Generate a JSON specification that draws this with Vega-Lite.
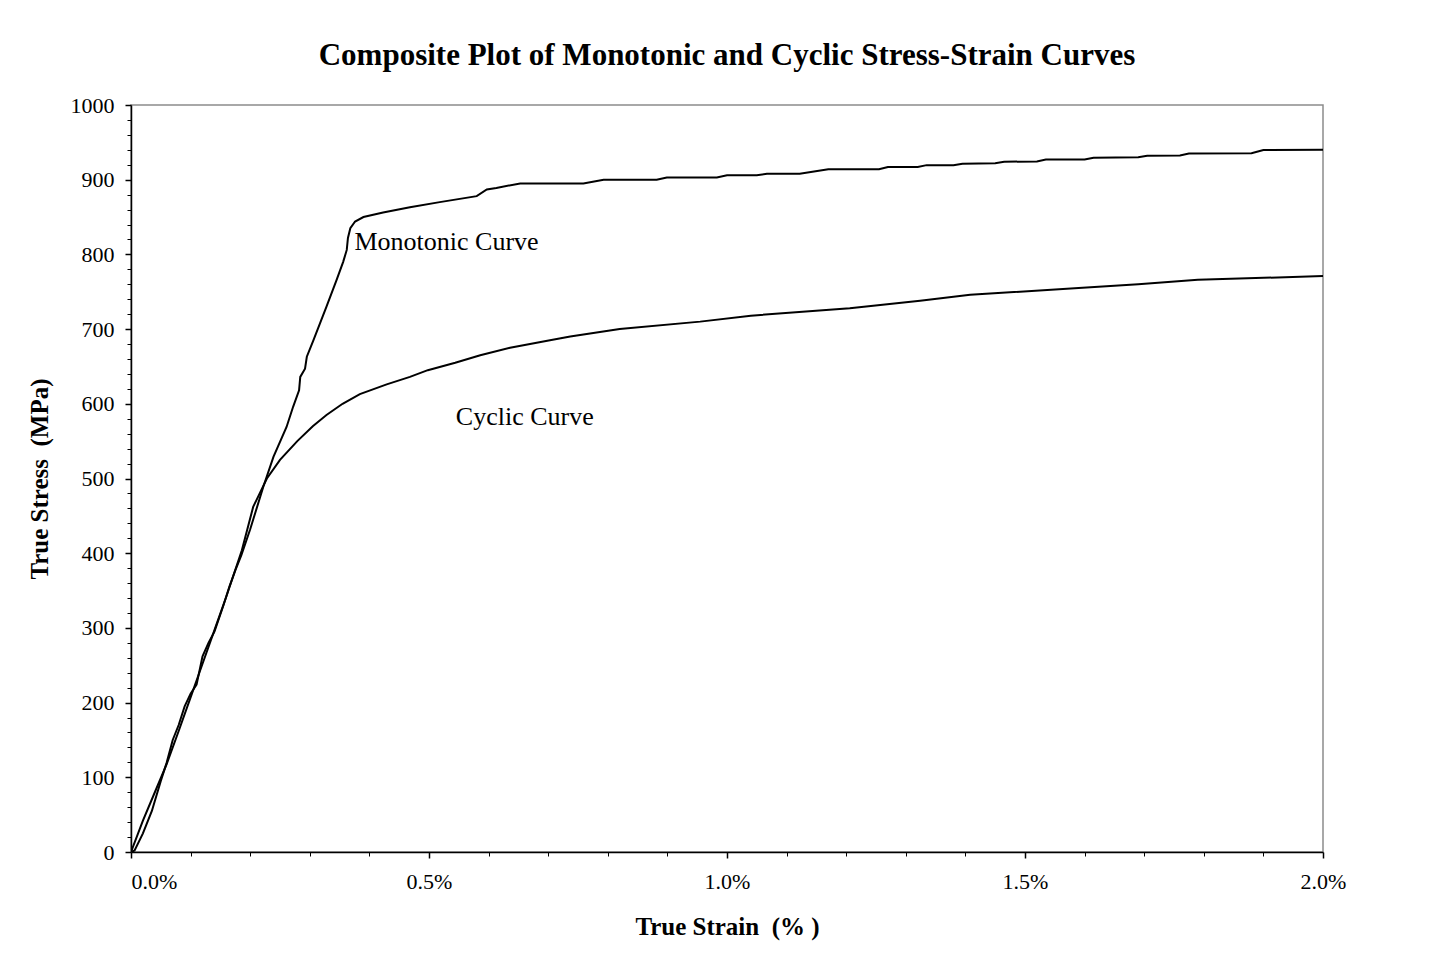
{
  "$schema": "https://vega.github.io/schema/vega-lite/v6.json",
  "autosize": "none",
  "width": 1192,
  "height": 747,
  "padding": {"left": 131, "top": 105, "right": 125, "bottom": 109},
  "background": "white",
  "config": {
    "font": "Liberation Serif",
    "view": {"stroke": "#8c8c8c", "strokeWidth": 1.5},
    "axis": {"labelFont": "Liberation Serif", "titleFont": "Liberation Serif", "labelColor": "black", "titleColor": "black"}
  },
  "title": {
    "text": "Composite Plot of Monotonic and Cyclic Stress-Strain Curves",
    "font": "Liberation Serif",
    "fontSize": 31,
    "fontWeight": "bold",
    "color": "black",
    "anchor": "middle",
    "offset": 22
  },
  "datasets": {
    "curves": [
      {"series": "Monotonic", "strain": 0, "stress": 0},
      {"series": "Monotonic", "strain": 0.006, "stress": 2},
      {"series": "Monotonic", "strain": 0.02, "stress": 25},
      {"series": "Monotonic", "strain": 0.035, "stress": 55},
      {"series": "Monotonic", "strain": 0.05, "stress": 95},
      {"series": "Monotonic", "strain": 0.06, "stress": 120},
      {"series": "Monotonic", "strain": 0.07, "stress": 150},
      {"series": "Monotonic", "strain": 0.08, "stress": 170},
      {"series": "Monotonic", "strain": 0.09, "stress": 195},
      {"series": "Monotonic", "strain": 0.1, "stress": 212},
      {"series": "Monotonic", "strain": 0.11, "stress": 224},
      {"series": "Monotonic", "strain": 0.12, "stress": 262},
      {"series": "Monotonic", "strain": 0.13, "stress": 280},
      {"series": "Monotonic", "strain": 0.14, "stress": 295},
      {"series": "Monotonic", "strain": 0.155, "stress": 330},
      {"series": "Monotonic", "strain": 0.165, "stress": 355},
      {"series": "Monotonic", "strain": 0.175, "stress": 377},
      {"series": "Monotonic", "strain": 0.185, "stress": 397},
      {"series": "Monotonic", "strain": 0.2, "stress": 432},
      {"series": "Monotonic", "strain": 0.222, "stress": 489},
      {"series": "Monotonic", "strain": 0.239, "stress": 529},
      {"series": "Monotonic", "strain": 0.261, "stress": 569},
      {"series": "Monotonic", "strain": 0.272, "stress": 596},
      {"series": "Monotonic", "strain": 0.282, "stress": 618},
      {"series": "Monotonic", "strain": 0.284, "stress": 636},
      {"series": "Monotonic", "strain": 0.292, "stress": 647},
      {"series": "Monotonic", "strain": 0.295, "stress": 663},
      {"series": "Monotonic", "strain": 0.306, "stress": 685},
      {"series": "Monotonic", "strain": 0.328, "stress": 730},
      {"series": "Monotonic", "strain": 0.345, "stress": 766},
      {"series": "Monotonic", "strain": 0.356, "stress": 790},
      {"series": "Monotonic", "strain": 0.362, "stress": 806},
      {"series": "Monotonic", "strain": 0.364, "stress": 822},
      {"series": "Monotonic", "strain": 0.368, "stress": 835},
      {"series": "Monotonic", "strain": 0.376, "stress": 844},
      {"series": "Monotonic", "strain": 0.39, "stress": 850},
      {"series": "Monotonic", "strain": 0.423, "stress": 856},
      {"series": "Monotonic", "strain": 0.468, "stress": 863},
      {"series": "Monotonic", "strain": 0.518, "stress": 870},
      {"series": "Monotonic", "strain": 0.58, "stress": 878},
      {"series": "Monotonic", "strain": 0.597, "stress": 887},
      {"series": "Monotonic", "strain": 0.613, "stress": 889},
      {"series": "Monotonic", "strain": 0.653, "stress": 895},
      {"series": "Monotonic", "strain": 0.759, "stress": 895},
      {"series": "Monotonic", "strain": 0.793, "stress": 900},
      {"series": "Monotonic", "strain": 0.882, "stress": 900},
      {"series": "Monotonic", "strain": 0.899, "stress": 903},
      {"series": "Monotonic", "strain": 0.983, "stress": 903},
      {"series": "Monotonic", "strain": 1.0, "stress": 906},
      {"series": "Monotonic", "strain": 1.05, "stress": 906},
      {"series": "Monotonic", "strain": 1.067, "stress": 908},
      {"series": "Monotonic", "strain": 1.122, "stress": 908},
      {"series": "Monotonic", "strain": 1.17, "stress": 914},
      {"series": "Monotonic", "strain": 1.255, "stress": 914},
      {"series": "Monotonic", "strain": 1.27, "stress": 917},
      {"series": "Monotonic", "strain": 1.32, "stress": 917},
      {"series": "Monotonic", "strain": 1.335, "stress": 919.5},
      {"series": "Monotonic", "strain": 1.38, "stress": 919.5},
      {"series": "Monotonic", "strain": 1.395, "stress": 921.5},
      {"series": "Monotonic", "strain": 1.45, "stress": 922},
      {"series": "Monotonic", "strain": 1.465, "stress": 924},
      {"series": "Monotonic", "strain": 1.52, "stress": 924.5},
      {"series": "Monotonic", "strain": 1.535, "stress": 927},
      {"series": "Monotonic", "strain": 1.6, "stress": 927},
      {"series": "Monotonic", "strain": 1.615, "stress": 929.5},
      {"series": "Monotonic", "strain": 1.69, "stress": 930},
      {"series": "Monotonic", "strain": 1.705, "stress": 932},
      {"series": "Monotonic", "strain": 1.76, "stress": 932.5},
      {"series": "Monotonic", "strain": 1.775, "stress": 935},
      {"series": "Monotonic", "strain": 1.88, "stress": 935.4},
      {"series": "Monotonic", "strain": 1.9, "stress": 939.8},
      {"series": "Monotonic", "strain": 2.0, "stress": 940},
      {"series": "Cyclic", "strain": 0, "stress": 0},
      {"series": "Cyclic", "strain": 0.02, "stress": 42},
      {"series": "Cyclic", "strain": 0.04, "stress": 80},
      {"series": "Cyclic", "strain": 0.06, "stress": 118},
      {"series": "Cyclic", "strain": 0.08, "stress": 162},
      {"series": "Cyclic", "strain": 0.1, "stress": 207},
      {"series": "Cyclic", "strain": 0.12, "stress": 252},
      {"series": "Cyclic", "strain": 0.14, "stress": 297},
      {"series": "Cyclic", "strain": 0.16, "stress": 342},
      {"series": "Cyclic", "strain": 0.186, "stress": 404},
      {"series": "Cyclic", "strain": 0.205, "stress": 462},
      {"series": "Cyclic", "strain": 0.228, "stress": 500},
      {"series": "Cyclic", "strain": 0.25, "stress": 525},
      {"series": "Cyclic", "strain": 0.279, "stress": 550},
      {"series": "Cyclic", "strain": 0.305, "stress": 570},
      {"series": "Cyclic", "strain": 0.328, "stress": 585},
      {"series": "Cyclic", "strain": 0.355, "stress": 600},
      {"series": "Cyclic", "strain": 0.384, "stress": 613},
      {"series": "Cyclic", "strain": 0.429, "stress": 626},
      {"series": "Cyclic", "strain": 0.468, "stress": 636},
      {"series": "Cyclic", "strain": 0.498, "stress": 645},
      {"series": "Cyclic", "strain": 0.544, "stress": 655},
      {"series": "Cyclic", "strain": 0.586, "stress": 665},
      {"series": "Cyclic", "strain": 0.636, "stress": 675},
      {"series": "Cyclic", "strain": 0.703, "stress": 685},
      {"series": "Cyclic", "strain": 0.737, "stress": 690},
      {"series": "Cyclic", "strain": 0.82, "stress": 700},
      {"series": "Cyclic", "strain": 0.955, "stress": 710},
      {"series": "Cyclic", "strain": 1.04, "stress": 718},
      {"series": "Cyclic", "strain": 1.206, "stress": 728},
      {"series": "Cyclic", "strain": 1.324, "stress": 738},
      {"series": "Cyclic", "strain": 1.408, "stress": 746},
      {"series": "Cyclic", "strain": 1.59, "stress": 755},
      {"series": "Cyclic", "strain": 1.69, "stress": 760},
      {"series": "Cyclic", "strain": 1.79, "stress": 766},
      {"series": "Cyclic", "strain": 2.0, "stress": 771}
    ],
    "labels": [
      {"label": "Monotonic Curve", "strain": 0.375, "stress": 816},
      {"label": "Cyclic Curve", "strain": 0.545, "stress": 582}
    ]
  },
  "resolve": {"axis": {"x": "independent", "y": "independent"}},
  "layer": [
    {
      "data": {"name": "curves"},
      "mark": {"type": "line", "color": "black", "strokeWidth": 2, "clip": true},
      "encoding": {
        "x": {
          "field": "strain", "type": "quantitative",
          "scale": {"domain": [0, 2], "nice": false, "zero": false},
          "axis": {
            "orient": "bottom",
            "values": [0, 0.5, 1, 1.5, 2],
            "labelExpr": "format(datum.value, '.1f') + '%'",
            "labelFlush": false,
            "labelAlign": {"expr": "datum.value == 0 ? 'left' : 'center'"},
            "labelFontSize": 22, "labelPadding": 13,
            "tickSize": 6, "tickColor": "black", "tickWidth": 1.5,
            "domainColor": "black", "domainWidth": 1.5,
            "grid": false,
            "title": "True Strain\u00a0\u00a0(%\u00a0)", "titleFontSize": 25, "titleFontWeight": "bold", "titlePadding": 22
          }
        },
        "y": {
          "field": "stress", "type": "quantitative",
          "scale": {"domain": [0, 1000], "nice": false},
          "axis": {
            "orient": "left",
            "values": [0, 100, 200, 300, 400, 500, 600, 700, 800, 900, 1000],
            "format": "d",
            "labelFlush": false,
            "labelFontSize": 22, "labelPadding": 11,
            "tickSize": 6, "tickColor": "black", "tickWidth": 1.5,
            "domainColor": "black", "domainWidth": 1.5,
            "grid": false,
            "title": "True Stress\u00a0\u00a0(MPa)", "titleFontSize": 25, "titleFontWeight": "bold", "titlePadding": 18
          }
        },
        "detail": {"field": "series", "type": "nominal"}
      }
    },
    {
      "data": {"name": "labels"},
      "mark": {"type": "text", "align": "left", "baseline": "middle", "font": "Liberation Serif", "fontSize": 26, "color": "black"},
      "encoding": {
        "x": {
          "field": "strain", "type": "quantitative",
          "axis": {
            "orient": "bottom",
            "values": [0.1, 0.2, 0.3, 0.4, 0.6, 0.7, 0.8, 0.9, 1.1, 1.2, 1.3, 1.4, 1.6, 1.7, 1.8, 1.9],
            "labels": false, "domain": false, "grid": false, "title": null,
            "tickSize": 4, "tickColor": "black", "tickWidth": 1
          }
        },
        "y": {
          "field": "stress", "type": "quantitative",
          "axis": {
            "orient": "left",
            "values": [20, 40, 60, 80, 120, 140, 160, 180, 220, 240, 260, 280, 320, 340, 360, 380, 420, 440, 460, 480, 520, 540, 560, 580, 620, 640, 660, 680, 720, 740, 760, 780, 820, 840, 860, 880, 920, 940, 960, 980],
            "labels": false, "domain": false, "grid": false, "title": null,
            "tickSize": 4, "tickColor": "black", "tickWidth": 1
          }
        },
        "text": {"field": "label", "type": "nominal"}
      }
    }
  ]
}
